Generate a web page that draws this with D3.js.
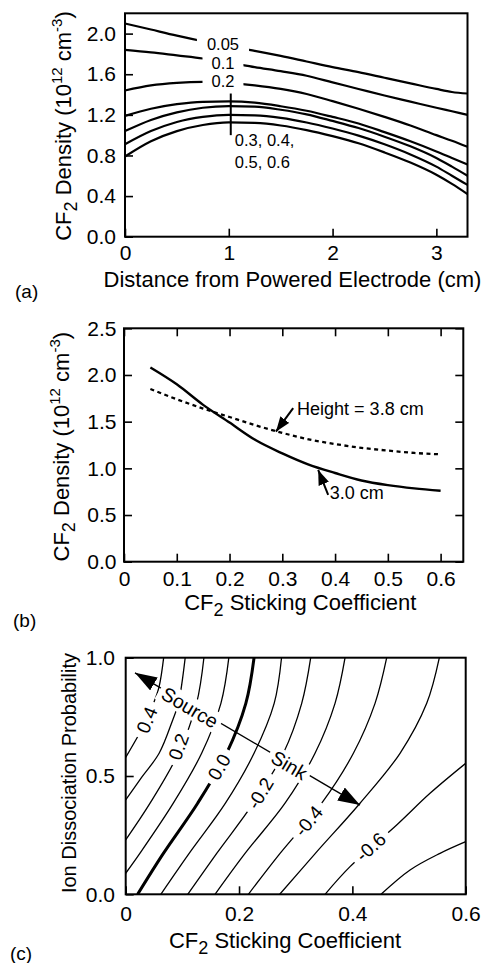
<!DOCTYPE html>
<html>
<head>
<meta charset="utf-8">
<title>CF2 density</title>
<script src="https://cdn.jsdelivr.net/npm/d3@7/dist/d3.min.js"></script>
<style>
  body { margin: 0; background: #fff; }
  text { font-family: "Liberation Sans", Arial, Helvetica, sans-serif; fill: #000; }
</style>
</head>
<body>
<svg id="fig" width="491" height="963"></svg>
<script>
// (a) CF2 density vs distance from powered electrode, one curve per sticking coefficient
const distA = [0, 0.25, 0.5, 0.75, 1.0, 1.25, 1.5, 1.75, 2.0, 2.25, 2.5, 2.75, 3.0, 3.15, 3.3];
const densA005 = [2.10, 2.04, 1.98, 1.925, 1.875, 1.83, 1.78, 1.725, 1.67, 1.62, 1.565, 1.51, 1.455, 1.425, 1.41];
const densA01  = [1.84, 1.815, 1.785, 1.755, 1.715, 1.67, 1.63, 1.585, 1.52, 1.455, 1.39, 1.33, 1.27, 1.235, 1.20];
const densA02  = [1.44, 1.49, 1.515, 1.524, 1.515, 1.49, 1.455, 1.405, 1.335, 1.26, 1.18, 1.095, 1.0, 0.945, 0.885];
const densA03  = [1.19, 1.26, 1.305, 1.328, 1.332, 1.32, 1.285, 1.24, 1.18, 1.115, 1.03, 0.94, 0.84, 0.775, 0.71];
const densA04  = [1.04, 1.15, 1.225, 1.27, 1.285, 1.28, 1.25, 1.205, 1.14, 1.07, 0.985, 0.89, 0.775, 0.69, 0.60];
const densA05  = [0.91, 1.04, 1.13, 1.18, 1.20, 1.195, 1.17, 1.125, 1.065, 0.995, 0.91, 0.81, 0.69, 0.60, 0.51];
const densA06  = [0.79, 0.94, 1.04, 1.10, 1.125, 1.12, 1.095, 1.05, 0.99, 0.92, 0.83, 0.73, 0.61, 0.52, 0.42];
const seriesA = [densA005, densA01, densA02, densA03, densA04, densA05, densA06];
const xTicksA = [0, 1, 2, 3];
const yTicksA = [0, 0.4, 0.8, 1.2, 1.6, 2.0];
const labelsA = [
  {t: "0.05", x: 0.944, y: 1.902},
  {t: "0.1",  x: 0.944, y: 1.715},
  {t: "0.2",  x: 0.944, y: 1.531}
];
const notesA = [
  {t: "0.3, 0.4,", x: 1.058, y: 0.951},
  {t: "0.5, 0.6",  x: 1.058, y: 0.737}
];
const markA = {x: 1.019, y0: 1.0, y1: 1.41};

// (b) CF2 density vs sticking coefficient for two reactor heights
const stickB = [0.05, 0.1, 0.15, 0.2, 0.25, 0.3, 0.35, 0.4, 0.45, 0.5, 0.55, 0.6];
const dens30 = [2.08, 1.90, 1.68, 1.49, 1.30, 1.16, 1.04, 0.95, 0.87, 0.82, 0.785, 0.76];
const dens38 = [1.85, 1.74, 1.64, 1.55, 1.46, 1.38, 1.31, 1.26, 1.22, 1.19, 1.165, 1.15];
const xTicksB = [0, 0.1, 0.2, 0.3, 0.4, 0.5, 0.6];
const yTicksB = [0, 0.5, 1.0, 1.5, 2.0, 2.5];
const notesB = [
  {t: "Height = 3.8 cm", x: 0.328, y: 1.572, from: [0.3206, 1.644], to: [0.2879, 1.393]},
  {t: "3.0 cm",          x: 0.390, y: 0.672, from: [0.3869, 0.715], to: [0.368, 0.983]}
];

// (c) contours of net wall flux vs sticking coefficient and ion dissociation probability
const levelsC = [0.4, 0.3, 0.2, 0.1, 0.0, -0.1, -0.2, -0.3, -0.4, -0.5, -0.6, -0.7];
const contoursC = [
  [[0.067, 1.0], [0.059, 0.878], [0.049, 0.807], [0.037, 0.737], [0.0, 0.579]],
  [[0.105, 1.0], [0.093, 0.807], [0.083, 0.737], [0.059, 0.596], [0.029, 0.497], [0.0, 0.399]],
  [[0.138, 1.0], [0.125, 0.807], [0.093, 0.596], [0.043, 0.385], [0.0, 0.230]],
  [[0.182, 1.0], [0.168, 0.807], [0.134, 0.596], [0.084, 0.385], [0.025, 0.173], [0.0, 0.089]],
  [[0.2265, 1.0], [0.212, 0.807], [0.178, 0.596], [0.127, 0.385], [0.0665, 0.173], [0.021, 0.0]],
  [[0.275, 1.0], [0.262, 0.807], [0.2265, 0.596], [0.176, 0.385], [0.112, 0.173], [0.062, 0.0]],
  [[0.3265, 1.0], [0.3106, 0.807], [0.2782, 0.596], [0.2253, 0.385], [0.1606, 0.173], [0.1094, 0.0]],
  [[0.3871, 1.0], [0.3694, 0.807], [0.3341, 0.596], [0.2812, 0.385], [0.2106, 0.173], [0.1576, 0.0]],
  [[0.4606, 1.0], [0.44, 0.807], [0.4018, 0.596], [0.3459, 0.385], [0.2724, 0.173], [0.2165, 0.0]],
  [[0.5535, 1.0], [0.5312, 0.807], [0.4841, 0.596], [0.4135, 0.385], [0.3347, 0.173], [0.2718, 0.0]],
  [[0.6, 0.5535], [0.537, 0.4268], [0.4782, 0.293], [0.3959, 0.1169], [0.3518, 0.0]],
  [[0.6, 0.2225], [0.5547, 0.1732], [0.5018, 0.1028], [0.4506, 0.0]]
];
const labelsC = [
  {t: "0.4",  lev: 0.4,  x: 0.037,  y: 0.737},
  {t: "0.2",  lev: 0.2,  x: 0.0929, y: 0.624},
  {t: "0.0",  lev: 0.0,  x: 0.1647, y: 0.539},
  {t: "-0.2", lev: -0.2, x: 0.2371, y: 0.427},
  {t: "-0.4", lev: -0.4, x: 0.3224, y: 0.310},
  {t: "-0.6", lev: -0.6, x: 0.4324, y: 0.201}
];
const arrowC = {from: [0.0164, 0.936], to: [0.4134, 0.377]};
const wordsC = [
  {t: "Source", x: 0.1134, y: 0.790},
  {t: "Sink",   x: 0.2887, y: 0.546}
];
const xTicksC = [0, 0.2, 0.4, 0.6];
const yTicksC = [0, 0.5, 1.0];

const svg = d3.select("#fig");

const boxA = {l: 125, r: 467.5, t: 13.3, b: 236.7};
const boxB = {l: 124, r: 463.3, t: 328.3, b: 561.7};
const boxC = {l: 125.7, r: 465.7, t: 657.7, b: 894.3};

const xA = d3.scaleLinear().domain([0, 3.3]).range([boxA.l, boxA.r]);
const yA = d3.scaleLinear().domain([0, 2.2]).range([boxA.b, boxA.t]);
const xB = d3.scaleLinear().domain([0, 0.643]).range([boxB.l, boxB.r]);
const yB = d3.scaleLinear().domain([0, 2.5]).range([boxB.b, boxB.t]);
const xC = d3.scaleLinear().domain([0, 0.6]).range([boxC.l, boxC.r]);
const yC = d3.scaleLinear().domain([0, 1]).range([boxC.b, boxC.t]);

const defs = svg.append("defs");
function arrowMarker(id, len, wid, start) {
  defs.append("marker").attr("id", id)
    .attr("markerUnits", "userSpaceOnUse")
    .attr("viewBox", `0 0 ${len} ${wid}`)
    .attr("markerWidth", len).attr("markerHeight", wid)
    .attr("refX", len).attr("refY", wid / 2)
    .attr("orient", start ? "auto-start-reverse" : "auto")
    .append("path").attr("d", `M0,0L${len},${wid / 2}L0,${wid}Z`).attr("fill", "#000");
}
arrowMarker("headB", 15, 11, false);
arrowMarker("headC", 22, 15, true);

defs.append("clipPath").attr("id", "clipC").append("rect")
  .attr("x", boxC.l).attr("y", boxC.t).attr("width", boxC.r - boxC.l).attr("height", boxC.b - boxC.t);

function frame(b) {
  svg.append("rect").attr("x", b.l).attr("y", b.t)
    .attr("width", b.r - b.l).attr("height", b.b - b.t)
    .attr("fill", "none").attr("stroke", "#000").attr("stroke-width", 2);
}

function addAxis(gen, tr, ticks, fmt, pad) {
  const g = svg.append("g").attr("transform", tr)
    .call(gen.tickValues(ticks).tickFormat(fmt).tickSizeInner(-8).tickSizeOuter(0).tickPadding(pad));
  g.attr("font-size", 21).attr("font-family", null);
  g.select(".domain").remove();
  g.selectAll(".tick line").attr("stroke", "#000").attr("stroke-width", 1.6);
  return g;
}

function densityTitle(cx, cy) {
  const t = svg.append("text").attr("transform", `translate(${cx},${cy}) rotate(-90)`)
    .attr("text-anchor", "middle").attr("font-size", 22);
  t.append("tspan").text("CF");
  t.append("tspan").attr("dy", 6).attr("font-size", 18).text("2");
  t.append("tspan").attr("dy", -6).text(" Density (10");
  t.append("tspan").attr("dy", -9).attr("font-size", 15).text("12");
  t.append("tspan").attr("dy", 9).text(" cm");
  t.append("tspan").attr("dy", -9).attr("font-size", 15).text("-3");
  t.append("tspan").attr("dy", 9).text(")");
}

function stickTitle(cx, by) {
  const t = svg.append("text").attr("x", cx).attr("y", by)
    .attr("text-anchor", "middle").attr("font-size", 22);
  t.append("tspan").text("CF");
  t.append("tspan").attr("dy", 6).attr("font-size", 18).text("2");
  t.append("tspan").attr("dy", -6).text(" Sticking Coefficient");
}

function haloLabel(g, txt, size, padX, padY) {
  const rect = g.append("rect").attr("fill", "#fff");
  const t = g.append("text").attr("text-anchor", "middle").attr("dy", "0.36em")
    .attr("font-size", size).text(txt);
  const w = t.node().getComputedTextLength();
  const h = size * 0.78;
  rect.attr("x", -w / 2 - padX).attr("y", -h / 2 - padY)
    .attr("width", w + 2 * padX).attr("height", h + 2 * padY);
}

// ---------- panel (a) ----------
const lineA = d3.line().x((d, i) => xA(distA[i])).y(d => yA(d)).curve(d3.curveMonotoneX);
svg.append("g").selectAll("path").data(seriesA).join("path")
  .attr("d", lineA).attr("fill", "none").attr("stroke", "#000").attr("stroke-width", 2.2);

labelsA.forEach(l => {
  const g = svg.append("g").attr("transform", `translate(${xA(l.x)},${yA(l.y)})`);
  haloLabel(g, l.t, 16.5, l.t === "0.05" ? 10 : 9, 1);
});

svg.append("line")
  .attr("x1", xA(markA.x)).attr("x2", xA(markA.x))
  .attr("y1", yA(markA.y0)).attr("y2", yA(markA.y1))
  .attr("stroke", "#000").attr("stroke-width", 2);

svg.append("g").selectAll("text").data(notesA).join("text")
  .attr("x", d => xA(d.x)).attr("y", d => yA(d.y)).attr("dy", "0.36em")
  .attr("font-size", 16.5).text(d => d.t);

frame(boxA);
addAxis(d3.axisBottom(xA), `translate(0,${boxA.b})`, xTicksA, d3.format("d"), 8);
addAxis(d3.axisLeft(yA), `translate(${boxA.l},0)`, yTicksA, d3.format(".1f"), 9);
densityTitle(70.5, 126);
svg.append("text").attr("x", 292.5).attr("y", 287).attr("text-anchor", "middle")
  .attr("font-size", 22).text("Distance from Powered Electrode (cm)");
svg.append("text").attr("x", 15).attr("y", 298).attr("font-size", 19).text("(a)");

// ---------- panel (b) ----------
const lineB = ys => d3.line().x((d, i) => xB(stickB[i])).y(d => yB(d)).curve(d3.curveMonotoneX)(ys);
svg.append("path").attr("d", lineB(dens38)).attr("fill", "none")
  .attr("stroke", "#000").attr("stroke-width", 2.3).attr("stroke-dasharray", "4,3.5");
svg.append("path").attr("d", lineB(dens30)).attr("fill", "none")
  .attr("stroke", "#000").attr("stroke-width", 2.4);

notesB.forEach(n => {
  svg.append("line")
    .attr("x1", xB(n.from[0])).attr("y1", yB(n.from[1]))
    .attr("x2", xB(n.to[0])).attr("y2", yB(n.to[1]))
    .attr("stroke", "#000").attr("stroke-width", 2).attr("marker-end", "url(#headB)");
  svg.append("text").attr("x", xB(n.x)).attr("y", yB(n.y)).attr("font-size", 18).text(n.t);
});

frame(boxB);
addAxis(d3.axisBottom(xB), `translate(0,${boxB.b})`, xTicksB, d => d === 0 ? "0" : d3.format(".1f")(d), 9);
addAxis(d3.axisLeft(yB), `translate(${boxB.l},0)`, yTicksB, d3.format(".1f"), 7.5);
addAxis(d3.axisTop(xB), `translate(0,${boxB.t})`, xTicksB, () => "", 0);
addAxis(d3.axisRight(yB), `translate(${boxB.r},0)`, yTicksB, () => "", 0);
densityTitle(68.5, 446.7);
stickTitle(300.3, 610);
svg.append("text").attr("x", 13).attr("y", 627).attr("font-size", 19).text("(b)");

// ---------- panel (c) ----------
const lineC = d3.line().x(d => xC(d[0])).y(d => yC(d[1])).curve(d3.curveCatmullRom.alpha(0.5));
svg.append("g").attr("clip-path", "url(#clipC)")
  .selectAll("path").data(contoursC).join("path")
  .attr("d", lineC).attr("fill", "none").attr("stroke", "#000")
  .attr("stroke-width", (d, i) => levelsC[i] === 0 ? 3 : 1.3);

function tangentAngle(pts, px, py) {
  let best = null, bd = Infinity;
  for (let i = 0; i < pts.length - 1; i++) {
    const ax = xC(pts[i][0]), ay = yC(pts[i][1]);
    const bx = xC(pts[i + 1][0]), by = yC(pts[i + 1][1]);
    const d = Math.hypot((ax + bx) / 2 - px, (ay + by) / 2 - py);
    if (d < bd) { bd = d; best = [bx - ax, by - ay]; }
  }
  let [dx, dy] = best;
  if (dx < 0) { dx = -dx; dy = -dy; }
  return Math.atan2(dy, dx) * 180 / Math.PI;
}

labelsC.forEach(l => {
  const px = xC(l.x), py = yC(l.y);
  const ang = tangentAngle(contoursC[levelsC.indexOf(l.lev)], px, py);
  const g = svg.append("g").attr("transform", `translate(${px},${py}) rotate(${ang})`);
  haloLabel(g, l.t, 19, 6, 3);
});

const ax0 = xC(arrowC.from[0]), ay0 = yC(arrowC.from[1]);
const ax1 = xC(arrowC.to[0]), ay1 = yC(arrowC.to[1]);
svg.append("line").attr("x1", ax0).attr("y1", ay0).attr("x2", ax1).attr("y2", ay1)
  .attr("stroke", "#000").attr("stroke-width", 1.4)
  .attr("marker-start", "url(#headC)").attr("marker-end", "url(#headC)");
const arrAng = Math.atan2(ay1 - ay0, ax1 - ax0) * 180 / Math.PI;
wordsC.forEach(w => {
  const g = svg.append("g").attr("transform", `translate(${xC(w.x)},${yC(w.y)}) rotate(${arrAng})`);
  haloLabel(g, w.t, 19.5, 4, 3);
});

frame(boxC);
addAxis(d3.axisBottom(xC), `translate(0,${boxC.b})`, xTicksC, d => d === 0 ? "0" : d3.format(".1f")(d), 11.6);
addAxis(d3.axisLeft(yC), `translate(${boxC.l},0)`, yTicksC, d3.format(".1f"), 10.7);
svg.append("text").attr("transform", "translate(76,773) rotate(-90)")
  .attr("text-anchor", "middle").attr("font-size", 20).text("Ion Dissociation Probability");
stickTitle(285, 948);
svg.append("text").attr("x", 10).attr("y", 960).attr("font-size", 19).text("(c)");
</script>
</body>
</html>
